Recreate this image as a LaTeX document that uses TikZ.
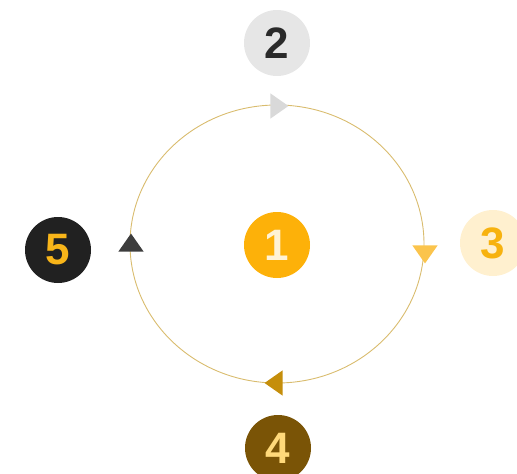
\documentclass[tikz,border=0pt]{standalone}
\usepackage{fontspec}
\setmainfont{Liberation Sans}
\usetikzlibrary{shapes.geometric}
\definecolor{ringc}{HTML}{D9BC6E}
\definecolor{c1}{HTML}{FDB109}
\definecolor{t1}{HTML}{FFF3D6}
\definecolor{c2}{HTML}{E6E6E6}
\definecolor{t2}{HTML}{2A2A2A}
\definecolor{c3}{HTML}{FFF0CF}
\definecolor{t3}{HTML}{F7B20F}
\definecolor{c4}{HTML}{7A5406}
\definecolor{t4}{HTML}{FFD97A}
\definecolor{c5}{HTML}{212121}
\definecolor{t5}{HTML}{F8B519}
\definecolor{a2}{HTML}{D9D9D9}
\definecolor{a3}{HTML}{FBC44C}
\definecolor{a4}{HTML}{C58E0B}
\definecolor{a5}{HTML}{3D3D3D}
\tikzset{
  num/.style={circle, minimum size=66pt, inner sep=0pt,
    font=\fontsize{44}{44}\selectfont\bfseries},
  tri/.style={isosceles triangle, isosceles triangle apex angle=70,
    minimum height=18pt, minimum width=22pt, inner sep=0pt, draw=none}
}
\begin{document}
\begin{tikzpicture}[x=1pt,y=-1pt]
\useasboundingbox (0,0) rectangle (517,474);
\draw[ringc, line width=0.9pt] (277,244) ellipse [x radius=147, y radius=139];
\node[num, fill=c1, text=t1] (n1) at (277,245) {1};
\node[num, fill=c2, text=t2] (n2) at (277,43) {2};
\node[num, fill=c3, text=t3] (n3) at (493,243) {3};
\node[num, fill=c4, text=t4] (n4) at (278,448) {4};
\node[num, fill=c5, text=t5] (n5) at (58,250) {5};
\node[tri, fill=a2, rotate=0] (r2) at (277,106) {};
\node[tri, fill=a3, shape border rotate=-90] (r3) at (425,252) {};
\node[tri, fill=a4, shape border rotate=180] (r4) at (276,383) {};
\node[tri, fill=a5, shape border rotate=90] (r5) at (131,245) {};
\end{tikzpicture}
\end{document}
